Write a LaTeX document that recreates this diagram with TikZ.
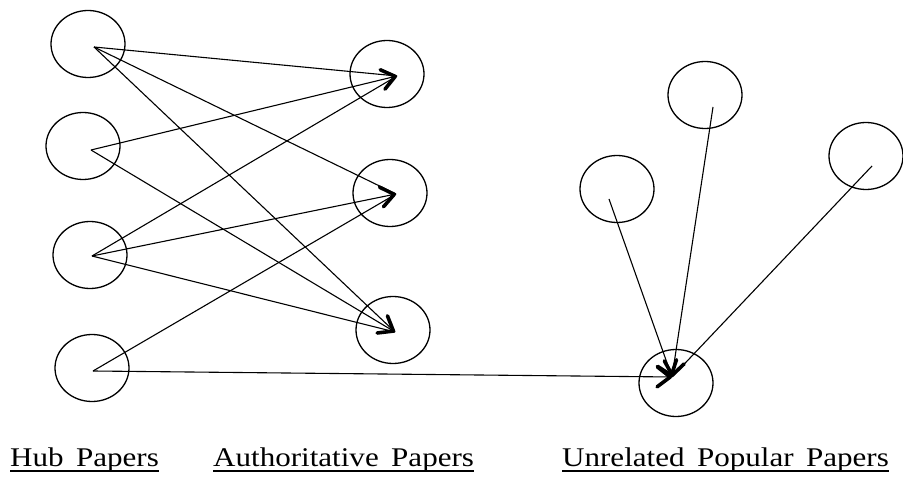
\documentclass[tikz,border=0pt]{standalone}
\usepackage{fontspec}
\newfontfamily\labfont[FakeStretch=1.15,WordSpace=1.6]{Liberation Serif}
\usetikzlibrary{arrows.meta,shapes.geometric}
\begin{document}
\begin{tikzpicture}[x=1pt,y=-1pt,
  paper/.style={draw,ellipse,line width=1.3pt,minimum width=74pt,minimum height=67pt,inner sep=0pt},
  link/.style={line width=1.1pt},
  headed/.style={link,-{Straight Barb[length=13pt,width=20pt,line width=3.6pt,round]}},
  lab/.style={font=\labfont\fontsize{27}{31}\selectfont,inner sep=0pt,anchor=base west},
  uline/.style={line width=1.4pt}]
\useasboundingbox (0,0) rectangle (903,486);
% hub papers
\node[paper] (h1) at (88,44) {};
\node[paper] (h2) at (83,146) {};
\node[paper] (h3) at (90,255) {};
\node[paper] (h4) at (92,368) {};
% authoritative papers
\node[paper] (a1) at (387,74) {};
\node[paper] (a2) at (390,193) {};
\node[paper] (a3) at (393,330) {};
% unrelated popular papers
\node[paper] (u1) at (705,95) {};
\node[paper] (u2) at (617,189) {};
\node[paper] (u3) at (866,156) {};
\node[paper] (u4) at (676,383) {};
% connector end points inside the circles
\coordinate (h1o) at (94,47);
\coordinate (h2o) at (91,150);
\coordinate (h3o) at (92,256);
\coordinate (h4o) at (93,371);
\coordinate (a1i) at (397,76);
\coordinate (a2i) at (396,194);
\coordinate (a3i) at (395,332);
\coordinate (u4i) at (672,377);
\coordinate (u1o) at (713,107);
\coordinate (u2o) at (609,199);
\coordinate (u3o) at (872,166);
% links
\draw[link] (h1o) -- (a1i);
\draw[link] (h1o) -- (a2i);
\draw[link] (h1o) -- (a3i);
\draw[headed] (h2o) -- (a1i);
\draw[headed] (h2o) -- (a3i);
\draw[link] (h3o) -- (a1i);
\draw[headed] (h3o) -- (a2i);
\draw[link] (h3o) -- (a3i);
\draw[link] (h4o) -- (a2i);
\draw[headed] (h4o) -- (u4i);
\draw[headed] (u1o) -- (u4i);
\draw[headed] (u2o) -- (u4i);
\draw[link] (u3o) -- (u4i);
% labels
\node[lab] (lhub) at (10,466) {Hub Papers};
\node[lab] (lauth) at (213,466) {Authoritative Papers};
\node[lab] (lunr) at (562,466) {Unrelated Popular Papers};
\draw[uline] ([yshift=-5pt]lhub.base west) -- ([yshift=-5pt]lhub.base east);
\draw[uline] ([yshift=-5pt]lauth.base west) -- ([yshift=-5pt]lauth.base east);
\draw[uline] ([yshift=-5pt]lunr.base west) -- ([yshift=-5pt]lunr.base east);
\end{tikzpicture}
\end{document}
